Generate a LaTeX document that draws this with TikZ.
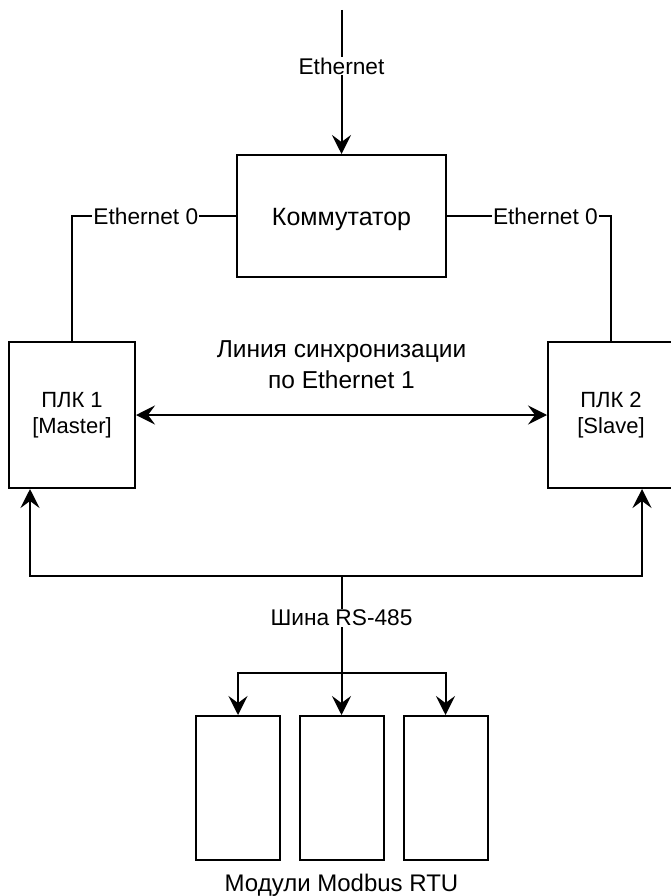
\documentclass[tikz,border=0pt]{standalone}
\usepackage{fontspec}
\setmainfont{Liberation Sans}
\usetikzlibrary{arrows.meta}
\tikzset{
    block/.style={draw,line width=2pt,minimum width=126pt,minimum height=146pt,inner sep=0pt,align=center,font=\fontsize{22}{26}\selectfont},
    module/.style={draw,line width=2pt,minimum width=84pt,minimum height=144pt,inner sep=0pt},
    wire/.style={line width=2pt},
    tip/.style={-{Stealth[length=19pt,width=19pt,inset=7pt]}},
    twotip/.style={{Stealth[length=19pt,width=19pt,inset=7pt]}-{Stealth[length=19pt,width=19pt,inset=7pt]}},
    lbl/.style={fill=white,inner sep=1pt}
}
\begin{document}
\begin{tikzpicture}[x=1pt,y=-1pt,every node/.style={font=\fontsize{22.7}{31}\selectfont}]
    \useasboundingbox (0,0) rectangle (671,896);
    \node[block,minimum width=209pt,minimum height=122pt] (sw) at (341.5,216) {};
    \node[font=\fontsize{25}{30}\selectfont] at (341.5,219) {Коммутатор};
    \node[block] (plc1) at (72,415) {ПЛК 1\\{[Master]}};
    \node[block] (plc2) at (611,415) {ПЛК 2\\{[Slave]}};
    \node[module] (m1) at (238,788) {};
    \node[module] (m2) at (341.5,788) {};
    \node[module] (m3) at (445.5,788) {};
    \node[font=\fontsize{24}{30}\selectfont] (mods) at (341.5,885) {Модули Modbus RTU};
    \coordinate (net) at (341.5,10);
    \coordinate (bus) at (341.5,576);
    \coordinate (b1) at (30,576);
    \coordinate (b2) at (642,576);
    \coordinate (fork) at (341.5,673);
    % ethernet
    \draw[wire,tip] (net) -- node[lbl,pos=.39] {Ethernet} (sw.north);
    \draw[wire] (sw.west) -| node[lbl,pos=.275] {Ethernet 0} (plc1.north);
    \draw[wire] (sw.east) -| node[lbl,pos=.3] {Ethernet 0} (plc2.north);
    \draw[wire,twotip] (plc1.east) -- node[above=22pt,align=center,font=\fontsize{24.5}{31}\selectfont] {Линия синхронизации\\по Ethernet 1} (plc2.west);
    % rs-485
    \draw[wire,tip] (bus) -- (b1) -- (b1 |- plc1.south);
    \draw[wire,tip] (bus) -- (b2) -- (b2 |- plc2.south);
    \draw[wire,tip] (bus) -- node[lbl,pos=.3] {Шина RS-485} (m2.north);
    \draw[wire,tip] (fork) -| (m1.north);
    \draw[wire,tip] (fork) -| (m3.north);
\end{tikzpicture}
\end{document}
